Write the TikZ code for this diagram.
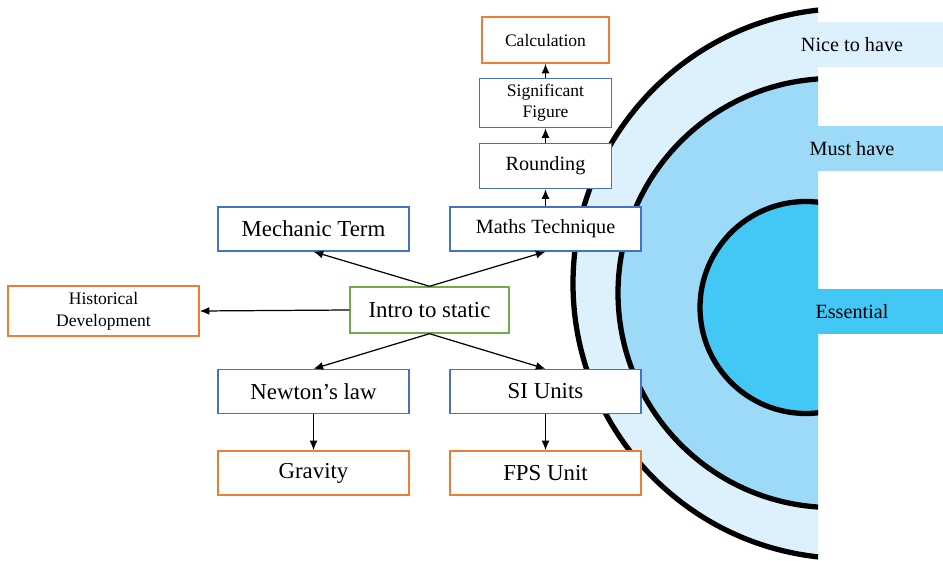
\documentclass[tikz,border=0pt]{standalone}
\usepackage{fontspec}
\setmainfont{Liberation Serif}
\usetikzlibrary{arrows.meta,positioning}

\definecolor{topicblue}{RGB}{68,114,196}
\definecolor{extraorange}{RGB}{237,125,49}
\definecolor{introgreen}{RGB}{112,173,71}
\definecolor{nicecol}{RGB}{221,241,252}
\definecolor{mustcol}{RGB}{157,218,247}
\definecolor{esscol}{RGB}{67,199,244}

\begin{document}
\begin{tikzpicture}[node distance=1.26cm, >={Latex[length=5.5pt,width=4.5pt]}]
  \tikzstyle{topic}=[rectangle,draw=topicblue,fill=white,line width=0.8pt,minimum width=3.82cm,minimum height=0.88cm,font=\fontsize{13}{15}\selectfont]
  \tikzstyle{extra}=[topic,draw=extraorange]
  \tikzstyle{stepbox}=[topic,minimum width=2.64cm,minimum height=0.92cm,font=\fontsize{10}{12}\selectfont,align=center]
  \tikzstyle{ring}=[draw=black,line width=3pt]
  \tikzstyle{bandlabel}=[font=\fontsize{11.5}{13}\selectfont]
  \tikzstyle{link}=[->,line width=0.7pt]

  \useasboundingbox (0,0) rectangle (18.86,11.2);

  % rings
  \begin{scope}
    \clip (0,0) rectangle (16.36,11.2);
    \draw[ring,fill=nicecol] (16.96,5.53) circle (5.5);
    \draw[ring,fill=mustcol] (16.65,5.34) circle (4.29);
    \draw[ring,fill=esscol] (16.12,5.05) circle (2.12);
  \end{scope}

  % bands
  \fill[nicecol] (16.36,9.86) rectangle (18.86,10.76);
  \fill[mustcol] (16.36,7.78) rectangle (18.86,8.68);
  \fill[esscol] (16.36,4.52) rectangle (18.86,5.42);
  \node[bandlabel] (nice) at (17.04,10.31) {Nice to have};
  \node[bandlabel] (must) at (17.04,8.23) {Must have};
  \node[bandlabel] (ess) at (17.04,4.97) {Essential};

  % topics
  \node[topic,draw=introgreen,minimum width=3.18cm,minimum height=0.92cm] (intro) at (8.59,5.0) {Intro to static};
  \node[extra,font=\fontsize{10}{12.5}\selectfont,align=center,minimum height=0.96cm] (hist) at (2.07,4.98) {Historical\\Development};
  \node[topic] (mech) at (6.27,6.62) {Mechanic Term};
  \node[topic,font=\fontsize{11.5}{13}\selectfont] (maths) at (10.91,6.62) {Maths Technique};
  \node[topic] (newton) at (6.27,3.37) {Newton’s law};
  \node[topic] (si) at (10.91,3.37) {SI Units};
  \node[extra] (gravity) at (6.27,1.74) {Gravity};
  \node[extra] (fps) at (10.91,1.74) {FPS Unit};

  \node[stepbox,font=\fontsize{11.5}{13}\selectfont,minimum height=0.9cm,above of=maths] (round) {Rounding};
  \node[stepbox,above of=round] (sig) {Significant\\Figure};
  \node[stepbox,draw=extraorange,minimum width=2.54cm,above of=sig] (calc) {Calculation};

  % edges
  \draw[link] (intro.north) -- (mech.south);
  \draw[link] (intro.north) -- (maths.south);
  \draw[link] (intro.west) -- (hist.east);
  \draw[link] (intro.south) -- (newton.north);
  \draw[link] (intro.south) -- (si.north);
  \draw[link] (newton) -- (gravity);
  \draw[link] (si) -- (fps);
  \draw[link] (maths) -- (round);
  \draw[link] (round) -- (sig);
  \draw[link] (sig) -- (calc);

\end{tikzpicture}
\end{document}
